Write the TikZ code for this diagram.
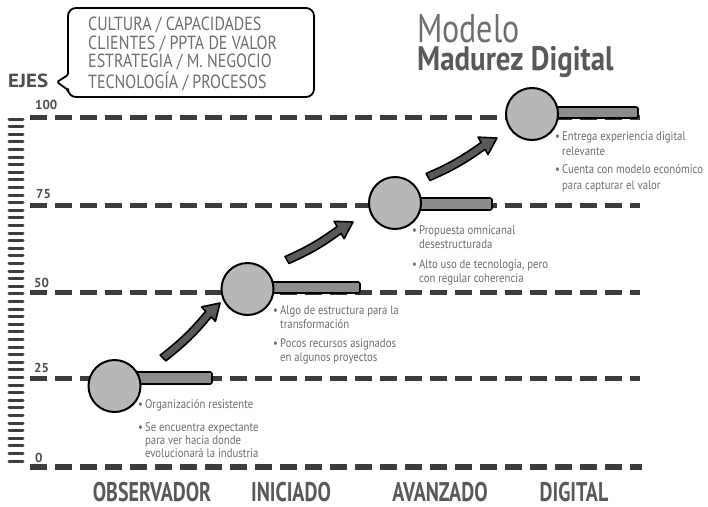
\documentclass[tikz,border=0pt]{standalone}
\usepackage{fontspec}
\setmainfont{PT Sans}
\newfontfamily\bubf[FakeStretch=0.84]{PT Sans}
\newfontfamily\bulf[FakeStretch=0.86]{PT Sans}
\newfontfamily\labf[FakeStretch=0.74]{PT Sans}
\newfontfamily\titf[FakeStretch=0.8]{PT Sans}
\newfontfamily\titbf[FakeStretch=0.85]{PT Sans}
\newfontfamily\widef[FakeStretch=1.1]{PT Sans}
\usetikzlibrary{calc}
\definecolor{dashc}{HTML}{3B3C3E}
\definecolor{circc}{HTML}{B5B7B8}
\definecolor{barc}{HTML}{8A8C8E}
\definecolor{arrc}{HTML}{58595B}
\definecolor{txtc}{HTML}{6D6E71}
\definecolor{labc}{HTML}{58595B}
\definecolor{numc}{HTML}{4D4D4F}
\tikzset{
  dline/.style={line width=5pt, dashc, dash pattern=on 17pt off 8pt},
  tickmark/.style={line width=3pt, dashc, line cap=round},
  level/.style={circle, draw=black, line width=2pt, fill=circc, minimum size=52pt, inner sep=0pt},
  barr/.style={draw=black, line width=1.6pt, fill=barc, rounded corners=2pt},
  fat/.style={draw=black, line width=1.6pt, fill=arrc, line join=round},
  bullets/.style={anchor=base west, inner sep=0pt, align=left, text=txtc, font=\bulf\fontsize{12.5}{14}\selectfont},
  axnum/.style={anchor=base west, inner sep=0pt, text=numc, font=\bfseries\fontsize{13}{13}\selectfont},
  stage/.style={anchor=base, inner sep=0pt, text=labc, font=\labf\bfseries\fontsize{27}{27}\selectfont},
}
\newcommand\fatarrow[2]{%
  \path[fat] let \p1=($(#2)-(#1)$), \n1={atan2(\y1,\x1)}, \n2={veclen(\x1,\y1)} in
    {[shift={(#1)}, rotate=\n1]
     (0pt,-4pt) to[bend right=6] ({(\n2-16)*1pt},-4pt) -- ({(\n2-16)*1pt},-10pt) --
     ({\n2*1pt},0pt) -- ({(\n2-16)*1pt},10pt) -- ({(\n2-16)*1pt},4pt) to[bend left=6] (0pt,4pt) -- cycle};
}
\begin{document}
\begin{tikzpicture}[x=1pt,y=-1pt]
\useasboundingbox[fill=white] (0,0) rectangle (708,506);
% tick column
\foreach \i in {0,...,45} \draw[tickmark] (9,{119+\i*7.6}) -- (23,{119+\i*7.6});
% dashed levels
\draw[dline] (30,117) -- (640,117);
\draw[dline] (30,205) -- (640,205);
\draw[dline] (30,292) -- (640,292);
\draw[dline] (30,378) -- (640,378);
\draw[dline, line width=6pt] (30,467) -- (642,467);
% axis numbers
\node[axnum] (n100) at (35,109) {100};
\node[axnum] (n75) at (36,198) {75};
\node[axnum] (n50) at (34,287) {50};
\node[axnum] (n25) at (34,372) {25};
\node[axnum] (n0) at (35,462) {0};
% bars
\draw[barr] (120,372) rectangle (212,384);
\draw[barr] (255,282) rectangle (360,293);
\draw[barr] (400,198) rectangle (492,210);
\draw[barr] (538,107) rectangle (638,118);
% circles
\node[level] (c1) at (114.5,386) {};
\node[level] (c2) at (247.5,289) {};
\node[level] (c3) at (395,203) {};
\node[level] (c4) at (532,114) {};
% arrows
\coordinate (a1t) at (163,358); \coordinate (a1h) at (220,303);
\coordinate (a2t) at (287,260); \coordinate (a2h) at (353,222);
\coordinate (a3t) at (428,177); \coordinate (a3h) at (497,138);
\fatarrow{a1t}{a1h}
\fatarrow{a2t}{a2h}
\fatarrow{a3t}{a3h}
% bullet texts (base = last line)
\node[bullets, font=\bulf\fontsize{12.5}{13}\selectfont] (b1) at (138,457)
  {•\,Organización resistente\\[10pt]•\,Se encuentra expectante\\ \phantom{•\,}para ver hacia donde\\ \phantom{•\,}evolucionará la industria};
\node[bullets] (b2) at (273,361)
  {•\,Algo de estructura para la\\ \phantom{•\,}transformación\\[5pt]•\,Pocos recursos asignados\\ \phantom{•\,}en algunos proyectos};
\node[bullets] (b3) at (412,282)
  {•\,Propuesta omnicanal\\ \phantom{•\,}desestructurada\\[6pt]•\,Alto uso de tecnología, pero\\ \phantom{•\,}con regular coherencia};
\node[bullets, font=\bulf\fontsize{12.5}{15.5}\selectfont] (b4) at (555,189)
  {•\,Entrega experiencia digital\\ \phantom{•\,}relevante\\[2.5pt]•\,Cuenta con modelo económico\\ \phantom{•\,}para capturar el valor};
% stage labels
\node[stage] (s1) at (152,501) {OBSERVADOR};
\node[stage] (s2) at (291,501) {INICIADO};
\node[stage] (s3) at (440,501) {AVANZADO};
\node[stage] (s4) at (574,501) {DIGITAL};
% bubble
\draw[line width=1.8pt, black, line join=round] (68,40) [rounded corners=8pt] -- (68,8) -- (314,8) -- (314,97) -- (68,97) [rounded corners=1.5pt] -- (68,90) -- (57,82) -- (68,75) -- cycle;
\node[anchor=base west, inner sep=0pt, align=left, text=txtc, font=\bubf\fontsize{19}{18.8}\selectfont] (axes) at (88,88)
  {CULTURA / CAPACIDADES\\CLIENTES / PPTA DE VALOR\\ESTRATEGIA / M. NEGOCIO\\TECNOLOGÍA / PROCESOS};
\node[anchor=base west, inner sep=0pt, text=numc, font=\widef\bfseries\fontsize{19}{19}\selectfont] (ejes) at (8,87) {EJES};
% title
\node[anchor=base west, inner sep=0pt, text=txtc, font=\titf\fontsize{40}{40}\selectfont] (t1) at (417,42) {Modelo};
\node[anchor=base west, inner sep=0pt, text=labc, font=\titbf\bfseries\fontsize{34}{34}\selectfont] (t2) at (417,70) {Madurez Digital};
\end{tikzpicture}
\end{document}
